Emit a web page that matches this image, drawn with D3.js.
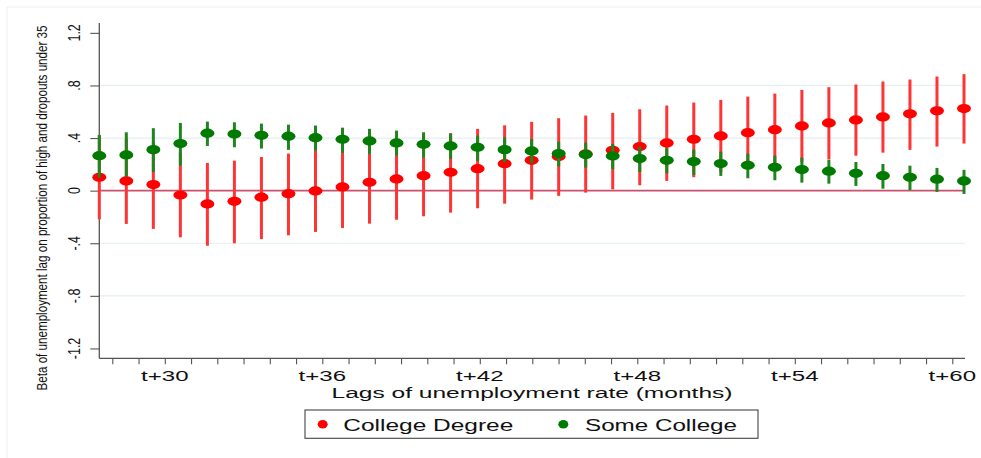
<!DOCTYPE html>
<html>
<head>
<meta charset="utf-8">
<script src="https://cdn.jsdelivr.net/npm/d3@7"></script>
<style>
  html, body { margin: 0; padding: 0; background: #fff; }
  svg { display: block; font-family: "Liberation Sans", Arial, Helvetica, sans-serif; }
</style>
</head>
<body>
<svg id="chart" width="981" height="458"></svg>
<script>
// Lags of the unemployment rate, in months
const lags = d3.range(28, 61);

// College Degree: coefficient and 95% interval
const collegeBeta = [0.102, 0.074, 0.046, -0.033, -0.101, -0.081, -0.050, -0.023, -0.002, 0.028,
  0.064, 0.089, 0.114, 0.140, 0.167, 0.205, 0.231, 0.259, 0.279, 0.307,
  0.335, 0.363, 0.391, 0.416, 0.441, 0.464, 0.492, 0.515, 0.538, 0.561,
  0.584, 0.607, 0.624];
const collegeLow = [-0.218, -0.253, -0.291, -0.355, -0.419, -0.400, -0.368, -0.340, -0.314, -0.284,
  -0.251, -0.221, -0.195, -0.167, -0.134, -0.099, -0.068, -0.040, -0.015, 0.010,
  0.041, 0.074, 0.102, 0.142, 0.167, 0.190, 0.218, 0.239, 0.266, 0.289,
  0.310, 0.335, 0.358];
const collegeHigh = [0.420, 0.395, 0.373, 0.289, 0.211, 0.228, 0.256, 0.282, 0.302, 0.333,
  0.379, 0.399, 0.423, 0.437, 0.470, 0.497, 0.523, 0.551, 0.571, 0.591,
  0.619, 0.647, 0.670, 0.690, 0.715, 0.738, 0.766, 0.787, 0.807, 0.830,
  0.845, 0.868, 0.886];

// Some College: coefficient and 95% interval
const someBeta = [0.266, 0.272, 0.312, 0.358, 0.437, 0.431, 0.421, 0.414, 0.403, 0.391,
  0.378, 0.363, 0.353, 0.340, 0.330, 0.312, 0.302, 0.282, 0.274, 0.264,
  0.244, 0.231, 0.221, 0.206, 0.193, 0.178, 0.160, 0.148, 0.132, 0.114,
  0.102, 0.087, 0.074];
const someLow = [0.100, 0.107, 0.142, 0.190, 0.340, 0.330, 0.320, 0.310, 0.302, 0.287,
  0.279, 0.266, 0.251, 0.241, 0.226, 0.216, 0.208, 0.183, 0.175, 0.163,
  0.142, 0.132, 0.119, 0.112, 0.094, 0.079, 0.061, 0.053, 0.036, 0.015,
  0.005, -0.010, -0.025];
const someHigh = [0.424, 0.444, 0.475, 0.515, 0.525, 0.520, 0.510, 0.502, 0.495, 0.479,
  0.470, 0.457, 0.444, 0.434, 0.419, 0.406, 0.393, 0.373, 0.365, 0.355,
  0.335, 0.325, 0.312, 0.297, 0.282, 0.266, 0.251, 0.236, 0.218, 0.203,
  0.190, 0.173, 0.158];

// Axis labelling
const yTicks = [-1.2, -0.8, -0.4, 0, 0.4, 0.8, 1.2];
const yGrid = [-0.8, -0.4, 0.4, 0.8];
const xLabelled = [30, 36, 42, 48, 54, 60];
const seriesNames = ["College Degree", "Some College"];

const svg = d3.select("#chart");

// light outer frame of the graph region
svg.append("rect").attr("x", 7).attr("y", 7).attr("width", 1000).attr("height", 500)
  .attr("fill", "none").attr("stroke", "#eceff1").attr("stroke-width", 1);

const plotLeft = 99.3, plotRight = 965, plotTop = 23, plotBottom = 358.3;

const y = d3.scaleLinear().domain([-1.275, 1.275]).range([plotBottom, plotTop]);
// markers are spread across the full plot width
const xPt = d3.scalePoint().domain(lags).range([99.3, 964]);
// tick marks run from t+28 to t+60
const xAx = d3.scaleLinear().domain([28, 60]).range([112.3, 952.3]);

// grid lines
svg.append("g").selectAll("line").data(yGrid).join("line")
  .attr("x1", plotLeft).attr("x2", plotRight)
  .attr("y1", d => y(d)).attr("y2", d => y(d))
  .attr("stroke", "#e4edf0").attr("stroke-width", 1.2);

// zero reference line
svg.append("line")
  .attr("x1", plotLeft).attr("x2", 964)
  .attr("y1", y(0)).attr("y2", y(0))
  .attr("stroke", "#c9506f").attr("stroke-width", 1.8);

// y axis
const yAxis = svg.append("g").attr("transform", `translate(${plotLeft},0)`)
  .call(d3.axisLeft(y).tickValues(yTicks).tickSize(9).tickFormat(() => ""));
yAxis.select(".domain").attr("d", `M0,${plotTop}V${plotBottom}`).attr("stroke", "#555").attr("stroke-width", 1.3);
yAxis.selectAll(".tick line").attr("stroke", "#555").attr("stroke-width", 1.1);

const fmtY = d => d === 0 ? "0" : (d < 0 ? "-" : "") + String(Math.abs(d)).replace(/^0/, "");
svg.append("g").selectAll("g").data(yTicks).join("g")
  .attr("transform", d => `translate(80,${y(d)}) scale(1.35,1) rotate(-90)`)
  .append("text")
  .attr("text-anchor", "middle")
  .attr("font-size", 12.5)
  .attr("fill", "#111")
  .text(fmtY);

// y axis title
svg.append("g").attr("transform", "translate(46.8,208) scale(1.3,1) rotate(-90)")
  .append("text")
  .attr("text-anchor", "middle")
  .attr("font-size", 11.5)
  .attr("fill", "#111")
  .attr("textLength", 365)
  .attr("lengthAdjust", "spacingAndGlyphs")
  .text("Beta of unemployment lag on proportion of high and dropouts under 35");

// x axis
const xAxis = svg.append("g").attr("transform", `translate(0,${plotBottom})`)
  .call(d3.axisBottom(xAx).tickValues(lags).tickSize(6).tickFormat(() => ""));
xAxis.select(".domain").attr("d", `M${plotLeft},0H${plotRight}`).attr("stroke", "#555").attr("stroke-width", 1.3);
xAxis.selectAll(".tick line").attr("stroke", "#555").attr("stroke-width", 1.1);

svg.append("g").selectAll("text").data(xLabelled).join("text")
  .attr("x", d => xAx(d)).attr("y", 381)
  .attr("text-anchor", "middle")
  .attr("font-size", 15.5)
  .attr("fill", "#111")
  .attr("textLength", 47.5)
  .attr("lengthAdjust", "spacingAndGlyphs")
  .text(d => "t+" + d);

svg.append("text")
  .attr("x", 532).attr("y", 398)
  .attr("text-anchor", "middle")
  .attr("font-size", 15.5)
  .attr("fill", "#111")
  .attr("textLength", 401)
  .attr("lengthAdjust", "spacingAndGlyphs")
  .text("Lags of unemployment rate (months)");

// estimates with confidence intervals
function drawSeries(beta, low, high, barColor, dotColor) {
  const g = svg.append("g");
  g.selectAll("line").data(lags).join("line")
    .attr("x1", (d) => xPt(d)).attr("x2", (d) => xPt(d))
    .attr("y1", (d, i) => y(low[i])).attr("y2", (d, i) => y(high[i]))
    .attr("stroke", barColor).attr("stroke-width", 3);
  g.selectAll("ellipse").data(lags).join("ellipse")
    .attr("cx", d => xPt(d)).attr("cy", (d, i) => y(beta[i]))
    .attr("rx", 7).attr("ry", 4.6)
    .attr("fill", dotColor);
}
drawSeries(collegeBeta, collegeLow, collegeHigh, "#ff3434", "#ff0000");
drawSeries(someBeta, someLow, someHigh, "#1f851f", "#007a00");

// legend
const legend = svg.append("g");
legend.append("rect").attr("x", 305).attr("y", 410).attr("width", 453).attr("height", 28.3)
  .attr("fill", "#fff").attr("stroke", "#444").attr("stroke-width", 1.1);
const legendItems = [
  { name: seriesNames[0], color: "#ff0000", mx: 322.7, tx: 343.3, w: 170 },
  { name: seriesNames[1], color: "#007a00", mx: 563.3, tx: 585, w: 152 }
];
legend.selectAll("ellipse").data(legendItems).join("ellipse")
  .attr("cx", d => d.mx).attr("cy", 424.3).attr("rx", 5).attr("ry", 4.3)
  .attr("fill", d => d.color);
legend.selectAll("text").data(legendItems).join("text")
  .attr("x", d => d.tx).attr("y", 431)
  .attr("font-size", 16)
  .attr("fill", "#111")
  .attr("textLength", d => d.w)
  .attr("lengthAdjust", "spacingAndGlyphs")
  .text(d => d.name);
</script>
</body>
</html>
